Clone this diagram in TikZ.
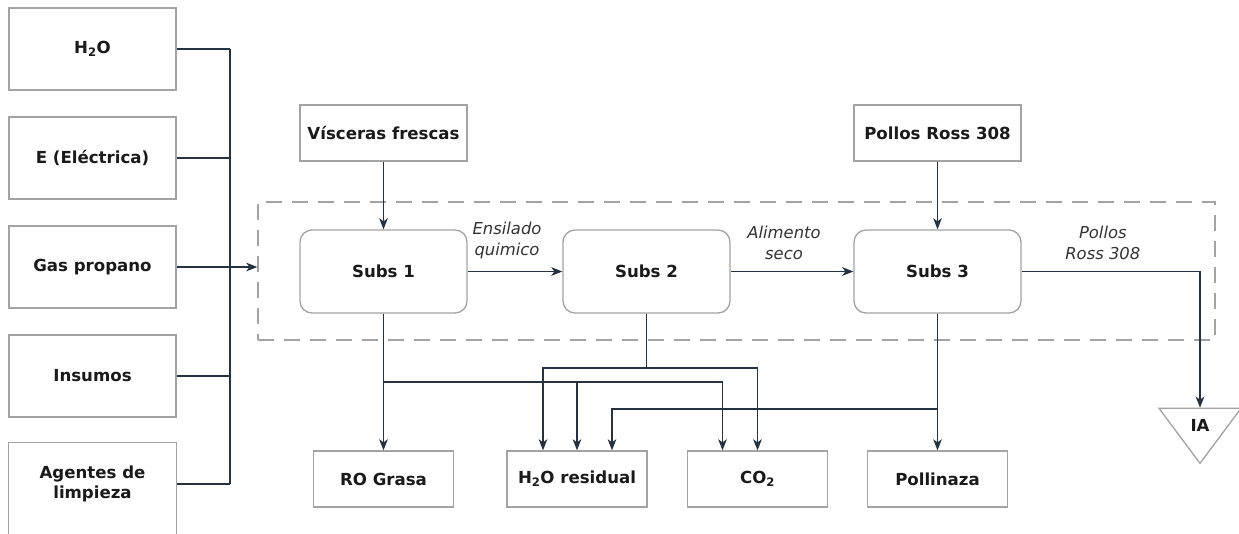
\documentclass[tikz,border=0pt]{standalone}
\usepackage{fontspec}
\setmainfont{DejaVu Sans}
\usetikzlibrary{arrows.meta, shapes.geometric}

\definecolor{flecha}{HTML}{253241}
\definecolor{borde}{HTML}{A3A3A3}
\definecolor{texto}{HTML}{1A1A1A}

\begin{document}
\begin{tikzpicture}[x=1pt, y=1pt]
    \def\w{167}
    \def\bw{140}
    \def\yA{-382}
    \def\yB{-368}
    \def\yC{-409}
    \tikzset{
        caja/.style={draw=borde, line width=1.3pt, fill=white, minimum width=\w pt,
            font=\fontsize{16.6}{20}\selectfont\bfseries, text=texto, align=center, inner sep=2pt},
        entrada/.style={caja, minimum height=82pt},
        sub/.style={caja, rounded corners=12pt, minimum height=83pt},
        salida/.style={caja, minimum width=\bw pt, minimum height=56pt},
        linea/.style={draw=flecha, line width=1.8pt},
        flujo/.style={linea, -{Stealth[length=11pt, width=8.5pt, inset=3pt]}},
        etiq/.style={font=\fontsize{16.4}{21}\selectfont\itshape, text=black!80, align=center}
    }
    \useasboundingbox[fill=white] (0,0) rectangle (1239,-533);

    % limite del proceso
    \node[draw=borde, line width=1.3pt, dash pattern=on 16pt off 10pt,
        minimum width=957pt, minimum height=138pt] (proceso) at (736.5,-271) {};

    % entradas
    \foreach \n/\y/\t in {h2o/49/{H\textsubscript{2}O}, elec/158/{E (Eléctrica)},
            gas/267/{Gas propano}, insumos/376/{Insumos}} {
        \node[entrada] (\n) at (92.5,-\y) {\t};
    }
    \node[entrada, draw=none] (agentes) at (92.5,-484) {Agentes de\\limpieza};
    \draw[draw=borde, line width=1.3pt] (agentes.south west) ++(0,-20) |- (agentes.north east) -- ++(0,-102);

    \coordinate (bus) at (230,0);
    \foreach \n in {h2o, elec, insumos, agentes} {
        \draw[linea] (\n.east) -- (\n.east -| bus);
    }
    \draw[linea] (h2o.east -| bus) -- (agentes.east -| bus);
    \draw[flujo] (gas.east) -- (gas.east -| proceso.west);

    % materias primas
    \node[caja, minimum height=56pt] (visceras) at (383.5,-133) {Vísceras frescas};
    \node[caja, minimum height=56pt] (pollos) at (937.5,-133) {Pollos Ross 308};

    % subsistemas
    \foreach \i/\x in {1/383.5, 2/646.5, 3/937.5} {
        \node[sub] (s\i) at (\x,-271.5) {Subs \i};
    }

    % salidas
    \node[salida] (grasa) at (383.5,-479) {RO Grasa};
    \node[salida] (agua) at (577,-479) {H\textsubscript{2}O residual};
    \node[salida] (co2) at (757.5,-479) {CO\textsubscript{2}};
    \node[salida] (pollinaza) at (937.5,-479) {Pollinaza};
    \node[draw=borde, line width=1.3pt, fill=white, isosceles triangle, isosceles triangle stretches,
        shape border rotate=270, minimum width=82pt, minimum height=55pt, inner sep=0pt,
        anchor=apex, font=\fontsize{16.6}{20}\selectfont\bfseries, text=texto] (ia) at (1200,-465) {IA};

    \draw[flujo] (visceras) -- (s1);
    \draw[flujo] (pollos) -- (s3);
    \draw[flujo] (s1) -- node[etiq, above=8pt, xshift=-8pt] {Ensilado\\quimico} (s2);
    \draw[flujo] (s2) -- node[etiq, above=8pt, xshift=-8pt] {Alimento\\seco} (s3);
    \draw[flujo] (s3) -| node[etiq, pos=0.25, above=8pt, xshift=-8pt] {Pollos\\Ross 308} (ia.lower side);

    % Subs 1
    \draw[flujo] (s1.south) -- (s1.south |- grasa.north);
    \draw[flujo] (s1.south |- 0,\yA) -| ([xshift=-35pt]co2.north);
    \draw[flujo] (agua.north |- 0,\yA) -- (agua.north);
    % Subs 2
    \draw[linea] (s2.south) -- (s2.south |- 0,\yB);
    \draw[flujo] (s2.south |- 0,\yB) -| ([xshift=-34pt]agua.north);
    \draw[flujo] (s2.south |- 0,\yB) -| (co2.north);
    % Subs 3
    \draw[flujo] (s3.south) -- (pollinaza.north);
    \draw[flujo] (s3.south |- 0,\yC) -| ([xshift=35pt]agua.north);
\end{tikzpicture}
\end{document}
